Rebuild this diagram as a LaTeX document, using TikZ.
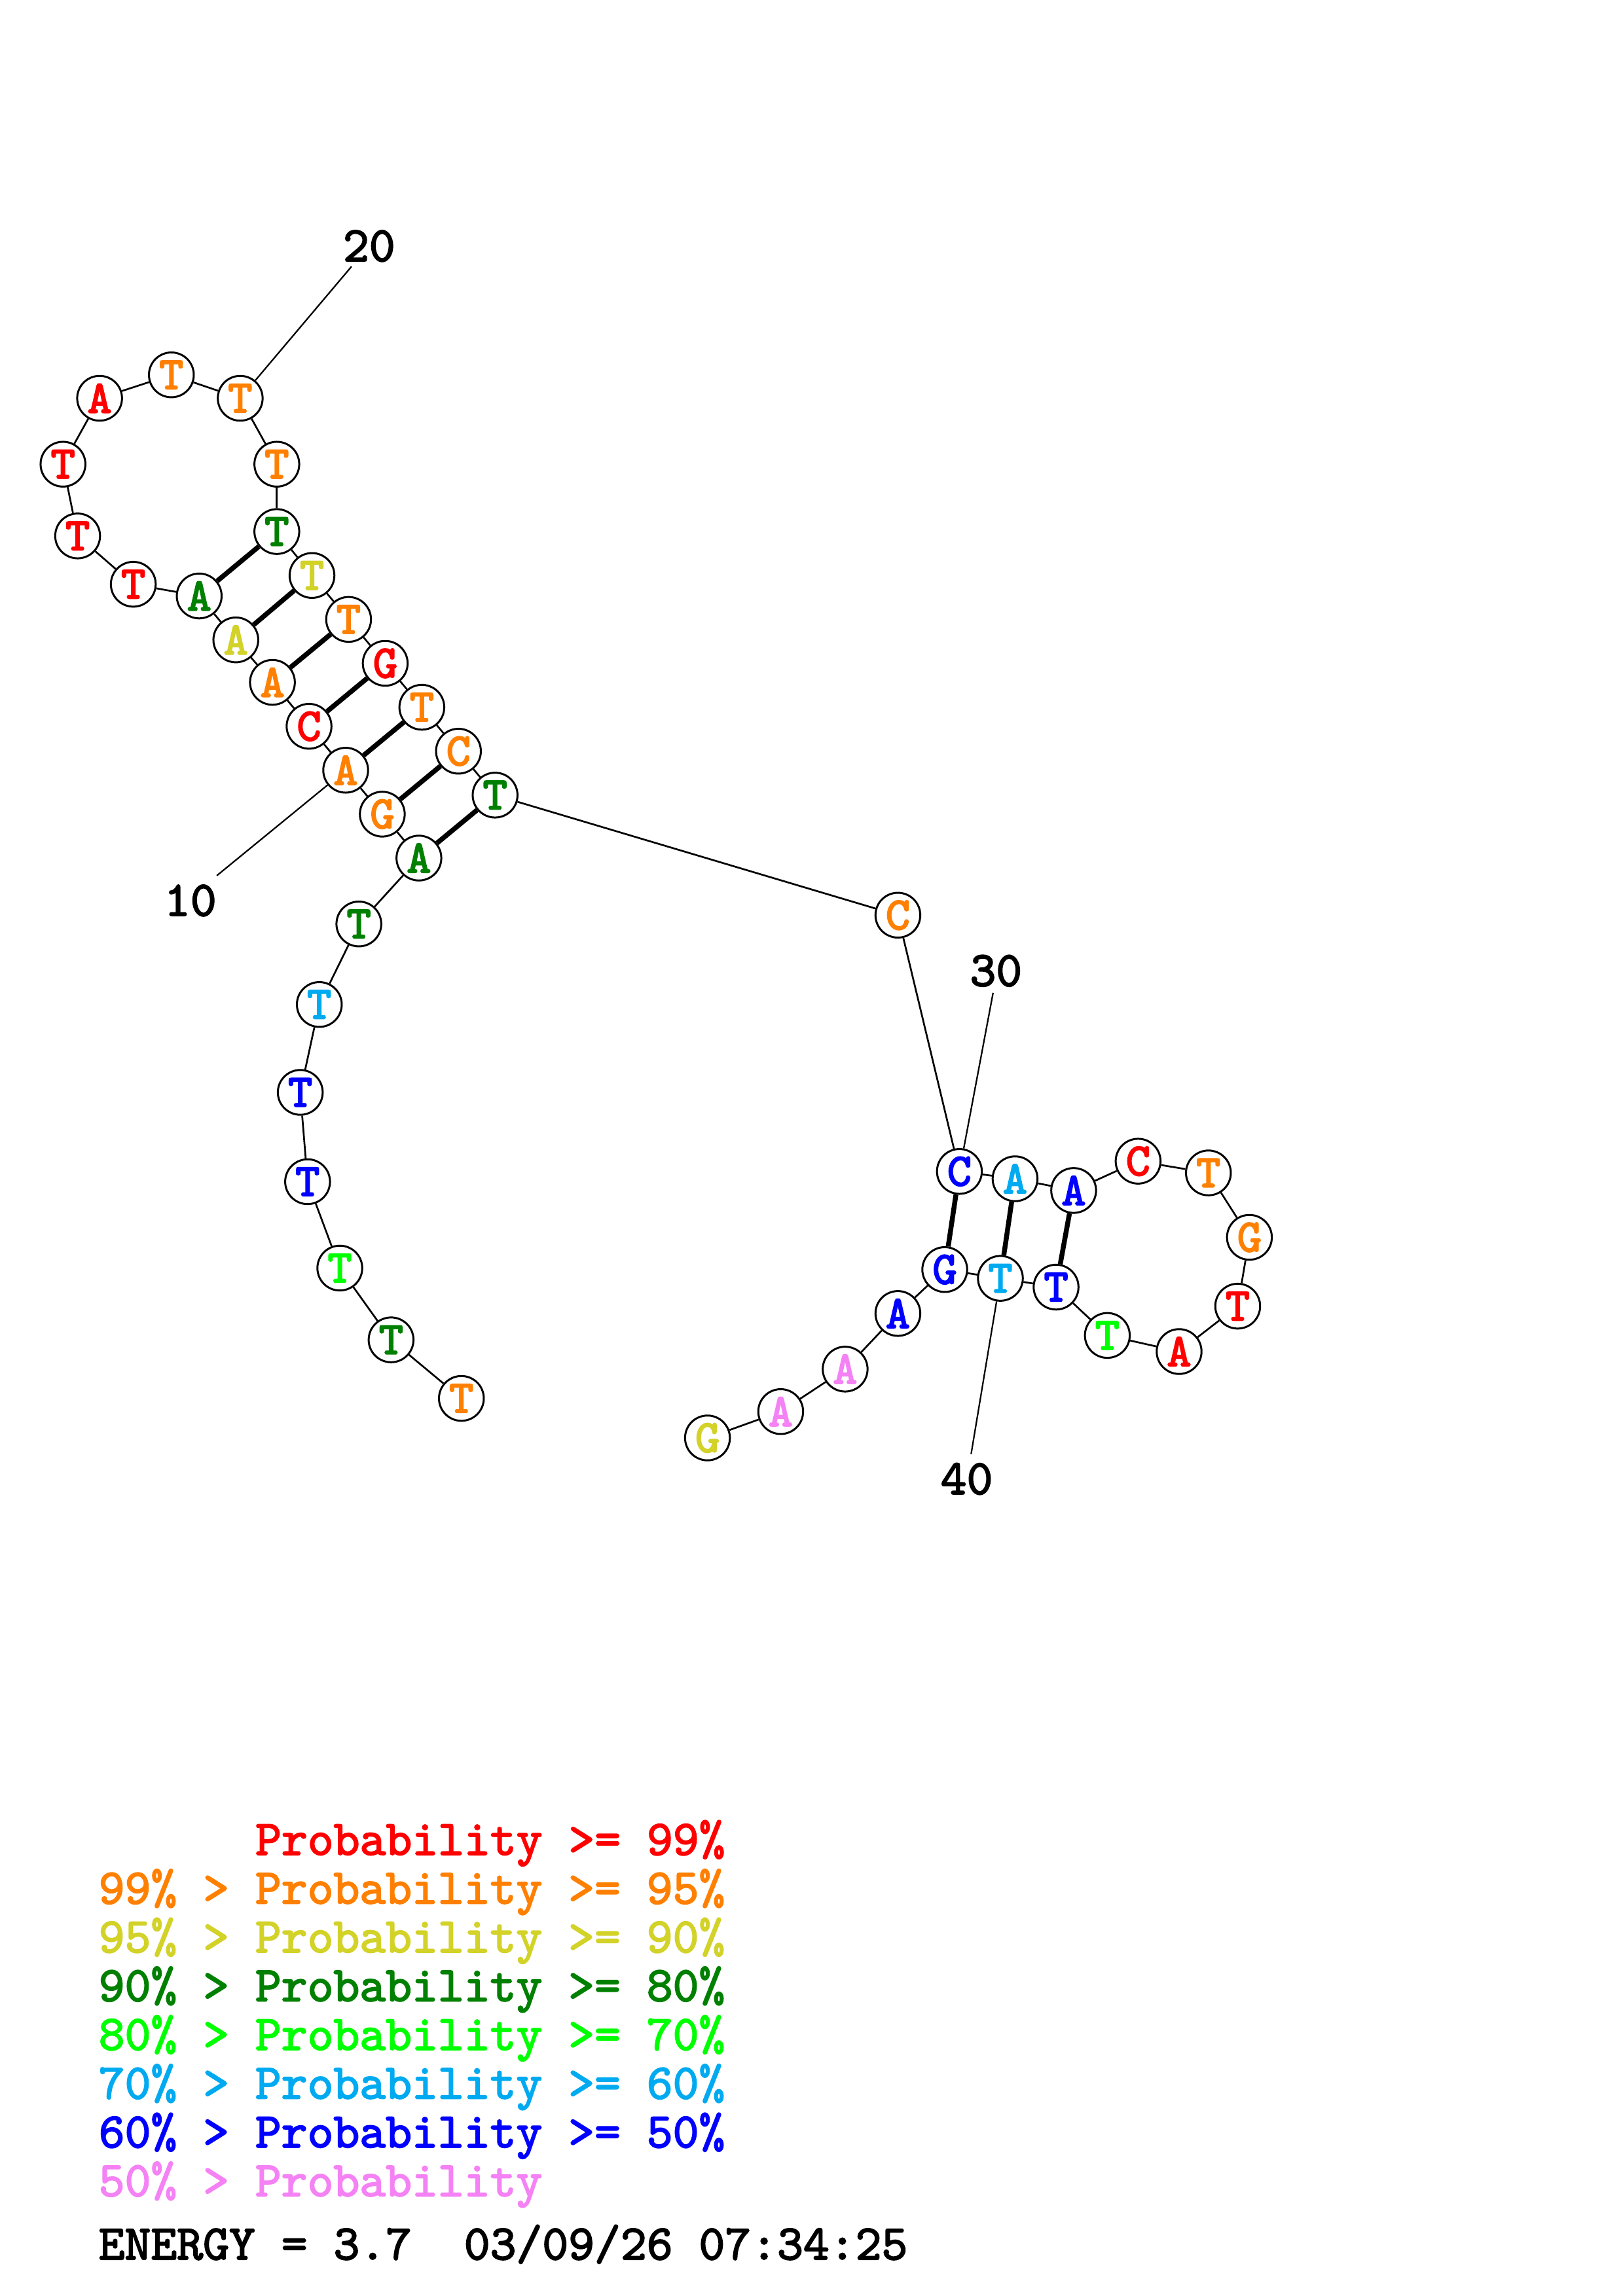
\documentclass[tikz,border=0pt]{standalone}
\usepackage{fontspec}
\newfontfamily\cb{lmmono10-regular.otf}[FakeBold=2.4]
\newfontfamily\cbn{lmmono10-regular.otf}[FakeBold=3]
\definecolor{pR}{RGB}{255,0,0}
\definecolor{pO}{RGB}{255,128,0}
\definecolor{pY}{RGB}{210,210,40}
\definecolor{pD}{RGB}{0,128,0}
\definecolor{pG}{RGB}{0,255,0}
\definecolor{pL}{RGB}{0,170,240}
\definecolor{pB}{RGB}{0,0,255}
\definecolor{pP}{RGB}{245,130,245}
\tikzset{
  base/.style={circle,draw=black,line width=0.72pt,fill=white,minimum size=5.8mm,inner sep=0pt,
    font=\cbn\fontsize{17}{17}\selectfont},
  bb/.style={line width=0.65pt},
  pair/.style={line width=1.8pt},
  lbl/.style={line width=0.55pt},
  num/.style={font=\cb\fontsize{18.3}{18.3}\selectfont,inner sep=0pt},
  leg/.style={font=\cb\fontsize{18.3}{18.3}\selectfont,inner sep=0pt,anchor=base west}
}
\begin{document}
\begin{tikzpicture}[x=0.18953mm,y=-0.18953mm]
\useasboundingbox (0,0) rectangle (1108,1568);
% nucleotides
\node[base,text=pO] (n1) at (315,955) {T};
\node[base,text=pD] (n2) at (267,915) {T};
\node[base,text=pG] (n3) at (232,866) {T};
\node[base,text=pB] (n4) at (210,807) {T};
\node[base,text=pB] (n5) at (205,746) {T};
\node[base,text=pL] (n6) at (218,686) {T};
\node[base,text=pD] (n7) at (245,631) {T};
\node[base,text=pD] (n8) at (286,586) {A};
\node[base,text=pO] (n9) at (261,556) {G};
\node[base,text=pO] (n10) at (236,526) {A};
\node[base,text=pR] (n11) at (211,496) {C};
\node[base,text=pO] (n12) at (186,466) {A};
\node[base,text=pY] (n13) at (161,437) {A};
\node[base,text=pD] (n14) at (136,407) {A};
\node[base,text=pR] (n15) at (91,399) {T};
\node[base,text=pR] (n16) at (53,366) {T};
\node[base,text=pR] (n17) at (43,317) {T};
\node[base,text=pR] (n18) at (68,272) {A};
\node[base,text=pO] (n19) at (117,256) {T};
\node[base,text=pO] (n20) at (164,272) {T};
\node[base,text=pO] (n21) at (189,317) {T};
\node[base,text=pD] (n22) at (189,363) {T};
\node[base,text=pY] (n23) at (213,393) {T};
\node[base,text=pO] (n24) at (238,423) {T};
\node[base,text=pR] (n25) at (263,453) {G};
\node[base,text=pO] (n26) at (288,483) {T};
\node[base,text=pO] (n27) at (313,513) {C};
\node[base,text=pD] (n28) at (338,543) {T};
\node[base,text=pO] (n29) at (613,625) {C};
\node[base,text=pB] (n30) at (655,800) {C};
\node[base,text=pL] (n31) at (693,805) {A};
\node[base,text=pB] (n32) at (733,813) {A};
\node[base,text=pR] (n33) at (777,793) {C};
\node[base,text=pO] (n34) at (825,801) {T};
\node[base,text=pO] (n35) at (853,845) {G};
\node[base,text=pR] (n36) at (845,892) {T};
\node[base,text=pR] (n37) at (805,923) {A};
\node[base,text=pG] (n38) at (756,912) {T};
\node[base,text=pB] (n39) at (721,879) {T};
\node[base,text=pL] (n40) at (683,873) {T};
\node[base,text=pB] (n41) at (645,867) {G};
\node[base,text=pB] (n42) at (613,897) {A};
\node[base,text=pP] (n43) at (577,935) {A};
\node[base,text=pP] (n44) at (533,964) {A};
\node[base,text=pY] (n45) at (483,982) {G};
% backbone
\foreach \a/\b in {1/2,2/3,3/4,4/5,5/6,6/7,7/8,8/9,9/10,10/11,11/12,12/13,13/14,14/15,15/16,16/17,17/18,18/19,19/20,20/21,21/22,22/23,23/24,24/25,25/26,26/27,27/28,28/29,29/30,30/31,31/32,32/33,33/34,34/35,35/36,36/37,37/38,38/39,39/40,40/41,41/42,42/43,43/44,44/45}
  \draw[bb] (n\a) -- (n\b);
% base pairs
\foreach \a/\b in {8/28,9/27,10/26,11/25,12/24,13/23,14/22,30/41,31/40,32/39}
  \draw[pair] (n\a) -- (n\b);
% position labels
\coordinate (c10) at (148,598);
\coordinate (c20) at (240,182);
\coordinate (c30) at (678,678);
\coordinate (c40) at (663,993);
\draw[lbl] (c10) -- (n10);
\draw[lbl] (c20) -- (n20);
\draw[lbl] (c30) -- (n30);
\draw[lbl] (c40) -- (n40);
\node[num] (t10) at (130,615) {10};
\node[num] (t20) at (252,168) {20};
\node[num] (t30) at (680,663) {30};
\node[num] (t40) at (660,1010) {40};
% legend
\node[leg,text=pR] (g1) at (174,1266.7) {Probability >= 99\%};
\node[leg,text=pO] (g2) at (67,1300) {99\% > Probability >= 95\%};
\node[leg,text=pY] (g3) at (67,1333.3) {95\% > Probability >= 90\%};
\node[leg,text=pD] (g4) at (67,1366.6) {90\% > Probability >= 80\%};
\node[leg,text=pG] (g5) at (67,1399.9) {80\% > Probability >= 70\%};
\node[leg,text=pL] (g6) at (67,1433.2) {70\% > Probability >= 60\%};
\node[leg,text=pB] (g7) at (67,1466.5) {60\% > Probability >= 50\%};
\node[leg,text=pP] (g8) at (67,1499.8) {50\% > Probability};
\node[leg,text=black] (en) at (67,1543) {ENERGY = 3.7\ \ 03/09/26 07:34:25};
\end{tikzpicture}
\end{document}
